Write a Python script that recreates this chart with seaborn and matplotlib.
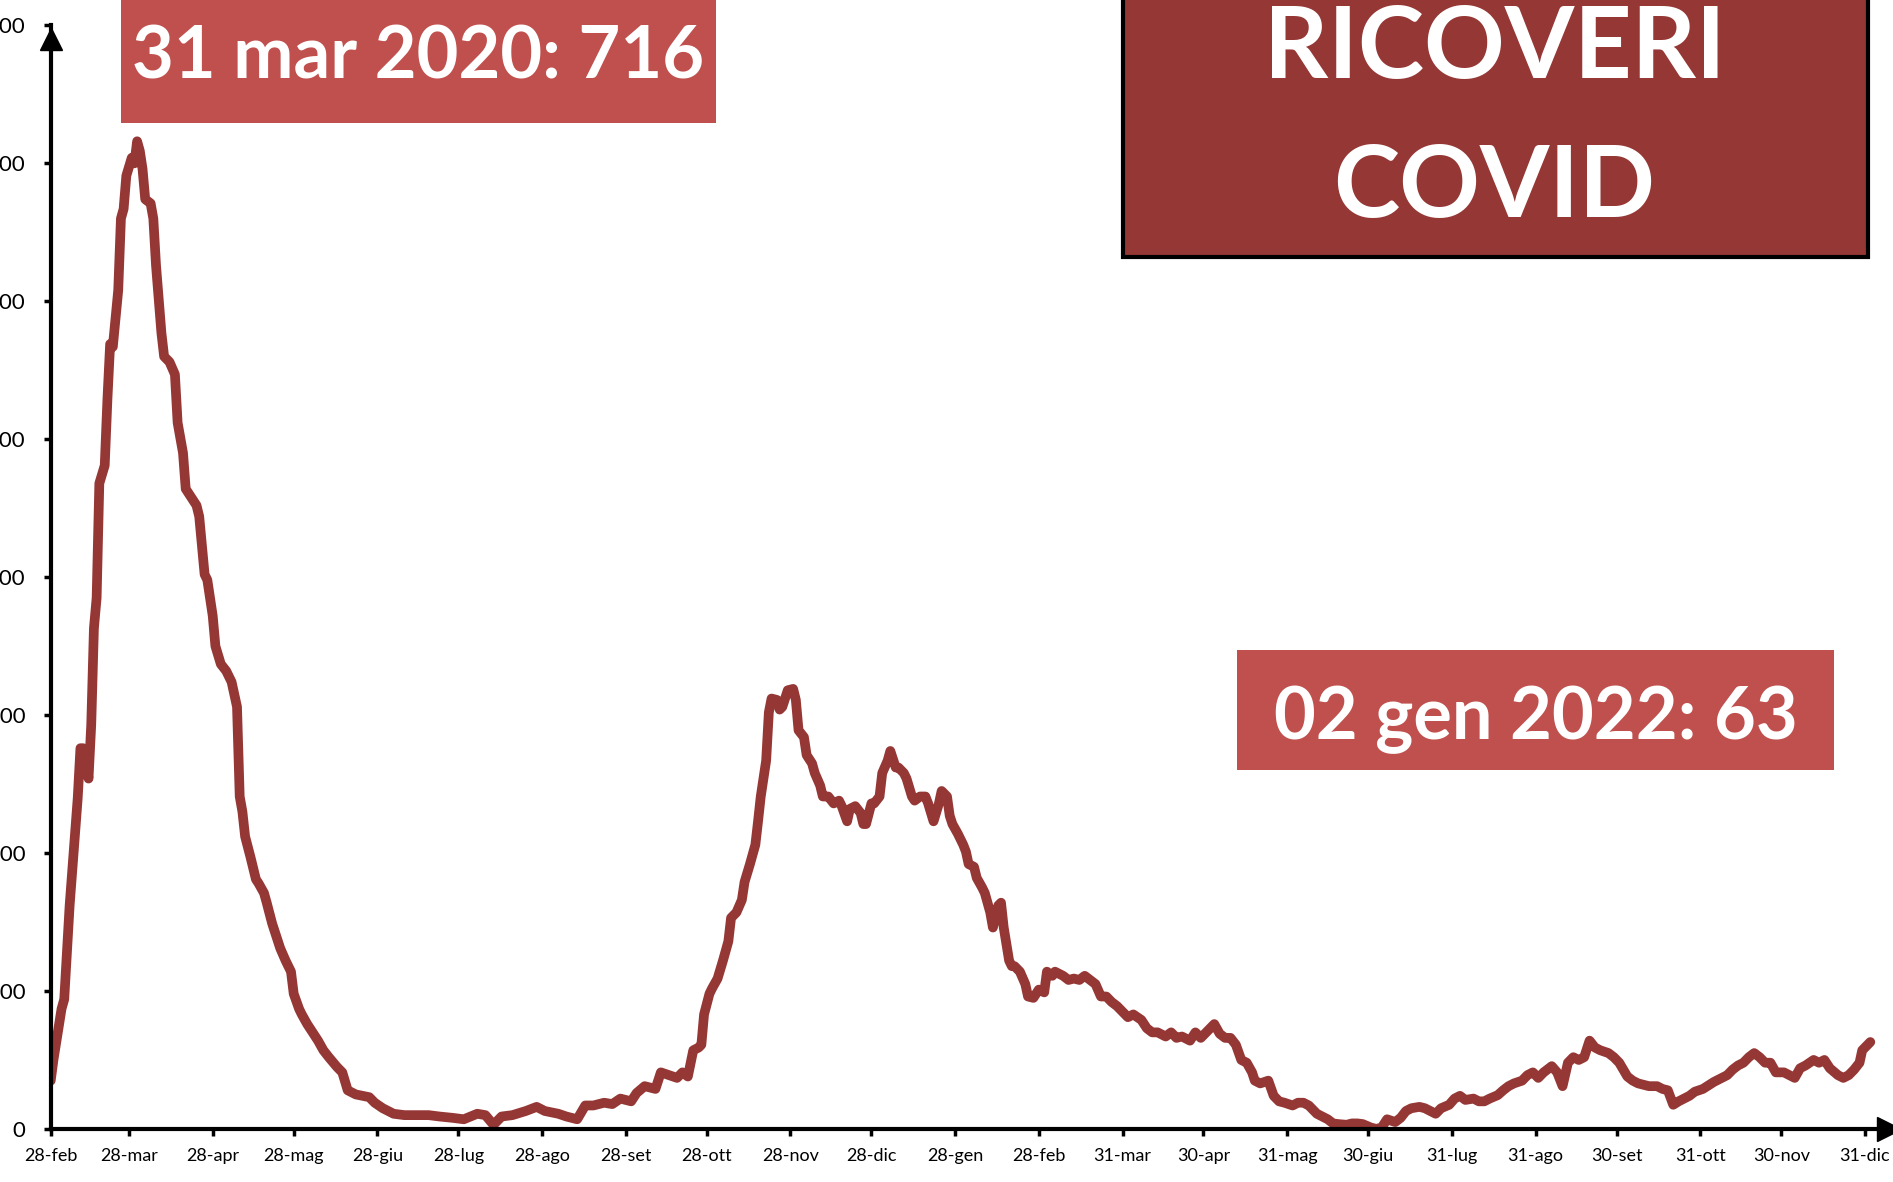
import numpy as np
import pandas as pd
import matplotlib
matplotlib.use("Agg")
import matplotlib.pyplot as plt
from matplotlib.patches import Rectangle
import seaborn as sns

# ---------------- data ----------------
start_date = "2020-02-28"
day_offsets = [0, 1, 4, 5, 7, 9, 10, 11, 12, 14, 15, 16, 17, 18, 20, 21, 22, 23, 25, 26, 27, 28, 30, 31, 32,
               33, 34, 35, 37, 38, 39, 41, 42, 44, 46, 47, 49, 50, 52, 54, 55, 57, 58, 60, 61, 63, 65, 67, 69,
               70, 71, 72, 74, 76, 77, 79, 80, 82, 84, 85, 87, 89, 90, 92, 93, 95, 97, 99, 101, 103, 106, 108,
               110, 113, 118, 120, 123, 127, 131, 135, 140, 144, 149, 153, 158, 161, 164, 167, 171, 176, 180,
               183, 188, 191, 195, 198, 201, 205, 208, 211, 215, 217, 220, 224, 226, 229, 232, 234, 236, 238,
               240, 241, 242, 244, 245, 247, 249, 251, 252, 254, 256, 257, 259, 261, 262, 263, 265, 266, 267,
               269, 270, 271, 273, 275, 276, 277, 279, 280, 282, 283, 285, 286, 288, 290, 292, 293, 295, 296,
               298, 300, 301, 302, 304, 305, 307, 308, 310, 311, 313, 314, 316, 317, 319, 320, 322, 324, 325,
               327, 329, 330, 332, 333, 334, 336, 338, 339, 340, 342, 343, 345, 346, 348, 349, 351, 352, 353,
               355, 356, 357, 359, 361, 362, 364, 366, 368, 369, 371, 372, 375, 377, 379, 381, 383, 385, 387,
               389, 391, 393, 395, 397, 399, 401, 404, 406, 408, 410, 413, 415, 417, 419, 422, 424, 426, 428,
               431, 433, 435, 437, 439, 441, 443, 445, 446, 448, 451, 453, 455, 457, 460, 462, 464, 466, 469,
               471, 473, 475, 477, 480, 482, 484, 486, 489, 491, 493, 495, 498, 500, 502, 504, 507, 509, 511,
               513, 515, 518, 520, 522, 524, 527, 529, 531, 533, 536, 538, 540, 542, 545, 547, 549, 551, 553,
               556, 558, 560, 562, 564, 566, 568, 570, 572, 574, 577, 579, 581, 584, 586, 588, 590, 592, 595,
               597, 599, 601, 603, 605, 607, 609, 612, 614, 616, 618, 621, 623, 625, 627, 629, 631, 633, 635,
               637, 639, 642, 644, 646, 648, 650, 653, 655, 657, 659, 662, 664, 666, 668, 670, 671, 673, 674]
hospitalised = [35, 50, 87, 94, 162, 214, 240, 276, 276, 254, 293, 363, 385, 468, 481, 529, 569, 567, 608, 660,
                667, 691, 704, 700, 716, 709, 696, 674, 671, 660, 626, 577, 560, 556, 547, 512, 490, 464, 458,
                452, 444, 402, 398, 372, 350, 337, 332, 324, 306, 241, 230, 212, 197, 181, 178, 171, 164, 149,
                137, 131, 122, 114, 98, 87, 83, 76, 70, 64, 57, 52, 45, 41, 28, 25, 23, 19, 15, 11, 10, 10, 10,
                9, 8, 7, 11, 10, 3, 9, 10, 13, 16, 13, 11, 9, 7, 17, 17, 19, 18, 22, 20, 26, 31, 29, 41, 39, 37,
                41, 38, 57, 59, 61, 83, 98, 102, 109, 122, 136, 153, 157, 166, 179, 192, 206, 223, 241, 267, 302,
                312, 311, 304, 306, 318, 319, 311, 289, 284, 271, 265, 258, 249, 241, 241, 236, 238, 234, 223,
                232, 234, 229, 221, 221, 236, 236, 241, 258, 267, 274, 262, 262, 258, 254, 241, 238, 241, 241,
                236, 223, 236, 245, 241, 227, 221, 214, 206, 201, 192, 190, 182, 175, 171, 157, 146, 162, 164,
                146, 122, 118, 118, 114, 105, 96, 95, 101, 99, 114, 111, 114, 111, 108, 109, 108, 111, 108, 105,
                96, 96, 92, 89, 85, 81, 83, 79, 73, 70, 70, 67, 70, 66, 67, 64, 70, 66, 70, 76, 69, 66, 66, 61,
                50, 48, 41, 35, 33, 35, 24, 20, 19, 17, 19, 19, 17, 11, 9, 7, 4, 3.5, 3, 4, 4, 3.5, 1, 0, 1, 7,
                5, 8, 13, 15, 16, 15, 13, 11, 15, 17.5, 22, 24, 21, 22, 20, 20, 22, 24.5, 28, 31, 33, 35, 39,
                41, 37, 41, 45.5, 41, 31, 48, 52, 50, 52, 64, 59, 57, 55, 52, 48, 38, 35, 33, 32, 31, 31, 29, 28,
                17.5, 20, 22, 24, 27, 29, 31.5, 34, 36, 39, 43, 46, 48, 52, 55, 52, 48, 48, 41, 41, 39, 37, 44,
                46, 50, 48, 50, 44, 39, 37, 39, 43, 48, 57, 61, 63]

y_ticks = [0, 100, 200, 300, 400, 500, 600, 700, 800]
x_tick_dates = ["2020-02-28", "2020-03-28", "2020-04-28", "2020-05-28", "2020-06-28", "2020-07-28",
                "2020-08-28", "2020-09-28", "2020-10-28", "2020-11-28", "2020-12-28", "2021-01-28",
                "2021-02-28", "2021-03-31", "2021-04-30", "2021-05-31", "2021-06-30", "2021-07-31",
                "2021-08-31", "2021-09-30", "2021-10-31", "2021-11-30", "2021-12-31"]
x_tick_labels = ["28-feb", "28-mar", "28-apr", "28-mag", "28-giu", "28-lug", "28-ago", "28-set",
                 "28-ott", "28-nov", "28-dic", "28-gen", "28-feb", "31-mar", "30-apr", "31-mag",
                 "30-giu", "31-lug", "31-ago", "30-set", "31-ott", "30-nov", "31-dic"]
title_lines = ["RICOVERI", "COVID"]
peak_label = "31 mar 2020: 716"
last_label = "02 gen 2022: 63"

# ---------------- style ----------------
sns.set_style("white")
plt.rcParams["font.family"] = ["Lato", "DejaVu Sans"]

LINE_COLOR = "#953735"
BOX_LIGHT = "#C0504D"
BOX_DARK = "#953735"

df = pd.DataFrame({
    "date": pd.Timestamp(start_date) + pd.to_timedelta(day_offsets, unit="D"),
    "value": hospitalised,
})

fig = plt.figure(figsize=(18.93, 11.82), dpi=100)
ax = fig.add_axes([0.0268, 0.0449, 0.9712, 0.9336])

sns.lineplot(data=df, x="date", y="value", ax=ax, color=LINE_COLOR, linewidth=7,
             solid_joinstyle="round", solid_capstyle="round")

ax.set_xlim(pd.Timestamp(start_date), pd.Timestamp(start_date) + pd.Timedelta(days=681))
ax.set_ylim(0, 800)
ax.set_xlabel("")
ax.set_ylabel("")

ax.set_yticks(y_ticks)
ax.set_yticklabels([str(v) for v in y_ticks], fontsize=16)
ax.set_xticks(pd.to_datetime(x_tick_dates))
ax.set_xticklabels(x_tick_labels, fontsize=13)

for s in ["top", "right"]:
    ax.spines[s].set_visible(False)
for s in ["left", "bottom"]:
    ax.spines[s].set_color("black")
    ax.spines[s].set_linewidth(3)
    ax.spines[s].set_zorder(5)

ax.tick_params(axis="y", direction="out", length=5, width=2.5, pad=13, colors="black", left=True)
ax.tick_params(axis="x", direction="out", length=5, width=2.5, pad=9, colors="black", bottom=True)
ax.grid(False)

# axis arrow heads
ax.plot([1.0], [0.0], marker=">", markersize=17, color="black", transform=ax.transAxes, clip_on=False, zorder=6)
ax.plot([0.0], [0.988], marker="^", markersize=16, color="black", transform=ax.transAxes, clip_on=False, zorder=6)

# ---------------- annotation boxes ----------------
fig.add_artist(Rectangle((0.0638, 0.8958), 0.3144, 0.12, transform=fig.transFigure,
                         facecolor=BOX_LIGHT, edgecolor="none", zorder=10))
fig.text(0.221, 0.9336, peak_label, color="white", fontsize=52, fontweight="bold",
         ha="center", va="baseline", zorder=11)

fig.add_artist(Rectangle((0.5931, 0.7824), 0.3935, 0.24, transform=fig.transFigure,
                         facecolor=BOX_DARK, edgecolor="black", linewidth=3, zorder=10))
fig.text(0.7895, 0.9336, title_lines[0], color="white", fontsize=72, fontweight="bold",
         ha="center", va="baseline", zorder=11)
fig.text(0.7895, 0.8161, title_lines[1], color="white", fontsize=72, fontweight="bold",
         ha="center", va="baseline", zorder=11)

fig.add_artist(Rectangle((0.6537, 0.3483), 0.3151, 0.1021, transform=fig.transFigure,
                         facecolor=BOX_LIGHT, edgecolor="none", zorder=10))
fig.text(0.8112, 0.3749, last_label, color="white", fontsize=52, fontweight="bold",
         ha="center", va="baseline", zorder=11)

fig.savefig("out.png", dpi=100, facecolor="white")
